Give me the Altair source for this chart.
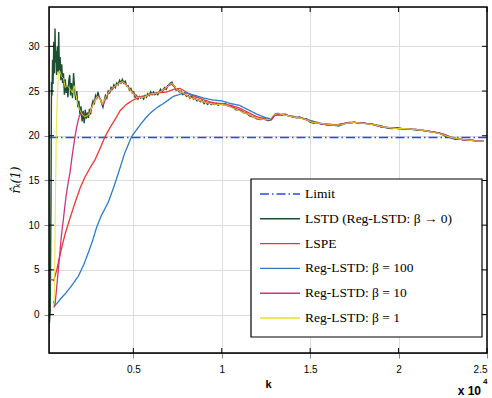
import altair as alt
import pandas as pd

# ---- series names and styles -------------------------------------------
series_names = [
    "Limit",
    "LSTD (Reg-LSTD: β → 0)",
    "LSPE",
    "Reg-LSTD: β = 100",
    "Reg-LSTD: β = 10",
    "Reg-LSTD: β = 1",
]
series_colors = ["#2a48ee", "#1d4f32", "#ec3434", "#2c7ac9", "#cc3579", "#e6e21a"]
series_dashes = [[9, 3, 1.5, 3], [1, 0], [1, 0], [1, 0], [1, 0], [1, 0]]

# ---- data ----------------------------------------------------------------
limit_k = [230, 25000]
limit_r = [19.8, 19.8]

lstd_k = [250, 300, 340, 370, 400, 430, 460, 500, 540, 570, 600, 630, 660, 700, 740,
          780, 820, 860, 900, 950, 1000, 1050, 1100, 1150, 1200, 1250, 1300, 1350,
          1400, 1450, 1500, 1560, 1620, 1680, 1740, 1800, 1860, 1920, 1980, 2040,
          2100, 2160, 2220, 2280, 2340, 2400, 2460, 2520, 2580, 2650, 2720, 2790,
          2860, 2930, 3000, 3070, 3140, 3210, 3280, 3350, 3420, 3500, 3580, 3660,
          3740, 3820, 3900, 3980, 4060, 4140, 4220, 4300, 4380, 4460, 4540, 4620,
          4700, 4780, 4860, 4940, 5020, 5100, 5180, 5260, 5340, 5420, 5500, 5580,
          5660, 5740, 5820, 5900, 5980, 6060, 6140, 6220, 6300, 6380, 6460, 6540,
          6620, 6700, 6780, 6860, 6940, 7020, 7100, 7180, 7260, 7340, 7420, 7500,
          7600, 7700, 7800, 7900, 8000, 8100, 8200, 8300, 8400, 8500, 8600, 8700,
          8800, 8900, 9000, 9100, 9200, 9300, 9400, 9500, 9600, 9700, 9800, 9900,
          10000, 10200, 10400, 10600, 10800, 11000, 11200, 11400, 11600, 11800,
          12000, 12200, 12400, 12600, 12800, 13000, 13200, 13400, 13600, 13800,
          14000, 14200, 14400, 14600, 14800, 15000, 15200, 15400, 15600, 15800,
          16000, 16300, 16600, 16900, 17200, 17500, 17800, 18100, 18400, 18700,
          19000, 19300, 19600, 19900, 20200, 20500, 20800, 21100, 21400, 21700,
          22000, 22300, 22600, 22900, 23200, 23500, 23800, 24100, 24400, 24800]
lstd_r = [-1.0, 0.3, 12.0, 26.0, 24.5, 28.5, 25.8, 30.5, 27.0, 32.0, 28.2, 29.5, 26.8, 30.0, 27.2,
          31.6, 27.0, 28.8, 26.2, 28.0, 25.9, 27.0, 24.6, 26.3, 24.8, 25.6, 24.3, 26.2,
          26.8, 24.5, 25.9, 24.2, 27.0, 25.2, 24.0, 25.0, 23.2, 23.9, 22.4, 23.3,
          21.6, 22.8, 21.4, 22.9, 21.9, 22.6, 22.0, 23.0, 22.4, 23.4, 23.9, 23.5,
          24.5, 24.2, 24.9, 24.3, 24.1, 23.6, 23.2, 23.9, 24.5, 24.2, 25.0, 24.8,
          25.4, 25.2, 25.7, 25.4, 25.9, 25.7, 26.2, 25.9, 26.3, 25.9, 26.1, 25.6,
          25.6, 25.1, 25.3, 24.8, 24.9, 24.3, 24.5, 24.1, 24.4, 24.2, 24.4, 24.1,
          24.5, 24.3, 24.7, 24.5, 24.9, 24.6, 24.9, 24.6, 24.8, 24.6, 24.9, 25.2,
          24.9, 25.2, 25.4, 25.2, 25.6, 25.7, 25.9, 26.0, 25.6, 25.5, 25.1, 25.2,
          24.9, 25.0, 24.6, 24.8, 24.4, 24.5, 24.2, 24.4, 24.1, 24.2, 23.9, 24.0,
          23.8, 23.9, 23.6, 23.8, 23.5, 23.7, 23.5, 23.7, 23.5, 23.6, 23.4, 23.6,
          23.5, 23.6, 23.3, 23.2, 22.9, 22.9, 22.6, 22.5, 22.2, 22.1,
          21.9, 21.8, 21.9, 21.7, 21.8, 22.4, 22.5, 22.3, 22.4, 22.2,
          22.2, 22.0, 22.1, 21.9, 21.9, 21.5, 21.4, 21.5, 21.3, 21.3,
          21.2, 21.2, 21.1, 21.3, 21.5, 21.5, 21.4, 21.4, 21.3, 21.2,
          21.1, 20.9, 20.8, 20.9, 20.8, 20.8, 20.7, 20.6, 20.6, 20.5,
          20.4, 20.3, 20.0, 19.8, 19.6, 19.6, 19.5, 19.5, 19.4, 19.4]

lspe_k = [300, 400, 500, 570, 670, 800, 950, 1140, 1420, 1700, 2000, 2270, 2550, 2830,
          3100, 3400, 3680, 3960, 4250, 4600, 5000, 5500, 5940, 6400, 6890, 7300, 7640,
          7900, 8200, 8600, 9000, 9500, 10000, 10500, 11000, 11500, 12000, 12500,
          12800, 13000, 13500, 14000, 14500, 15000, 15500, 16000, 16500, 17000, 17500,
          18000, 18500, 19000, 19500, 20000, 21000, 22000, 22500, 23000, 23500, 24000,
          24800]
lspe_r = [3.9, 3.9, 3.8, 4.3, 5.0, 6.2, 7.5, 9.0, 10.8, 12.5, 14.2, 15.4, 16.4, 17.3,
          18.5, 19.9, 20.9, 21.8, 22.8, 23.5, 24.0, 24.4, 24.6, 24.8, 24.9, 25.2, 25.3,
          25.0, 24.6, 24.3, 24.0, 23.7, 23.6, 23.4, 23.1, 22.6, 22.1, 21.9,
          21.8, 22.3, 22.4, 22.1, 22.0, 21.7, 21.4, 21.3, 21.2, 21.4, 21.5,
          21.4, 21.3, 21.0, 20.9, 20.8, 20.7, 20.4, 20.2, 19.8, 19.6, 19.5,
          19.4]

reg100_k = [480, 570, 700, 900, 1140, 1500, 1890, 2200, 2450, 2700, 2930, 3200, 3590,
            3900, 4150, 4500, 4900, 5380, 5660, 5940, 6300, 6700, 7260, 7740, 8000,
            8500, 9000, 9500, 10000, 10500, 11000, 11500, 12000, 12500, 12800, 13000,
            13500, 14000, 14500, 15000, 15500, 16000, 16500, 17000, 17500, 18000,
            18500, 19000, 19500, 20000, 21000, 22000, 22500, 23000, 23500, 24000, 24800]
reg100_r = [1.5, 1.0, 1.3, 1.8, 2.3, 3.2, 4.3, 5.6, 6.9, 8.3, 9.8, 11.1, 12.6,
            14.3, 15.8, 18.0, 19.9, 21.2, 21.9, 22.5, 23.1, 23.6, 24.4, 24.7, 24.8,
            24.5, 24.2, 24.0, 23.9, 23.6, 23.4, 22.9, 22.4, 22.0, 21.9, 22.3,
            22.4, 22.1, 22.0, 21.7, 21.4, 21.3, 21.2, 21.4, 21.5, 21.4,
            21.3, 21.0, 20.9, 20.8, 20.7, 20.4, 20.2, 19.8, 19.6, 19.5, 19.4]

reg10_k = [500, 570, 640, 700, 780, 850, 920, 980, 1040, 1120, 1200, 1300, 1420, 1550,
           1700, 1800, 1890, 1960, 2050, 2170, 2280, 2400, 2550, 2700, 2850, 3000, 3150,
           3300, 3450, 3600, 3800, 4000, 4200, 4400, 4600, 4800, 5000, 5200, 5500, 5800,
           6100, 6400, 6700, 7000, 7200, 7400, 7700, 8000, 8400, 8800, 9200, 9600,
           10000, 10500, 11000, 11500, 12000, 12500, 12800, 13000, 13500, 14000, 14500,
           15000, 15500, 16000, 16500, 17000, 17500, 18000, 18500, 19000, 19500, 20000,
           21000, 22000, 22500, 23000, 23500, 24000, 24800]
reg10_r = [0.8, 1.1, 2.5, 3.8, 5.5, 7.0, 8.6, 9.7, 10.6, 12.0, 13.3, 14.6, 15.9, 17.9,
           19.9, 21.0, 21.8, 22.3, 22.4, 22.3, 22.2, 22.3, 22.7, 23.4, 24.1, 24.4, 24.0,
           23.5, 24.2, 24.8, 25.2, 25.6, 25.9, 26.0, 25.7, 25.2, 24.8, 24.4, 24.3, 24.5,
           24.7, 24.8, 25.1, 25.6, 25.8, 25.3, 24.9, 24.5, 24.2, 23.9, 23.7, 23.5,
           23.5, 23.3, 22.9, 22.4, 21.9, 21.8, 21.8, 22.3, 22.4, 22.1, 22.0,
           21.6, 21.4, 21.2, 21.2, 21.4, 21.5, 21.4, 21.3, 21.0, 20.9, 20.8,
           20.7, 20.4, 20.2, 19.8, 19.6, 19.5, 19.4]

reg1_k = [450, 520, 560, 600, 650, 700, 760, 820, 880, 950, 1050, 1150, 1250, 1350, 1450,
          1550, 1650, 1750, 1850, 1950, 2050, 2150, 2250, 2350, 2450, 2550, 2650, 2800,
          2950, 3100, 3250, 3400, 3550, 3700, 3850, 4000, 4150, 4300, 4450, 4600, 4750,
          4900, 5050, 5200, 5400, 5600, 5800, 6000, 6200, 6400, 6600, 6800, 7000, 7150,
          7300, 7500, 7700, 7900, 8100, 8300, 8500, 8800, 9100, 9400, 9700, 10000,
          10300, 10600, 10900, 11200, 11500, 11800, 12100, 12400, 12700, 12900, 13200,
          13600, 14000, 14400, 14800, 15100, 15500, 15900, 16300, 16700, 17100, 17500,
          17900, 18300, 18700, 19100, 19500, 19900, 20400, 20900, 21400, 21900, 22400,
          22800, 23200, 23600, 24000, 24400, 24800]
reg1_r = [0.8, 1.2, 6.0, 14.0, 21.0, 24.5, 26.6, 27.3, 27.0, 26.6, 26.4, 25.4, 25.6, 25.4, 25.2,
          24.8, 25.6, 24.6, 23.6, 23.0, 22.6, 22.3, 22.1, 22.2, 22.3, 22.6, 23.2, 23.8,
          24.4, 24.2, 23.5, 24.2, 24.7, 25.1, 25.4, 25.6, 25.8, 26.0, 26.0, 25.7, 25.3,
          24.9, 24.6, 24.3, 24.3, 24.3, 24.5, 24.7, 24.7, 24.8, 25.0, 25.3, 25.6, 25.9,
          25.6, 25.1, 24.9, 24.7, 24.4, 24.2, 24.1, 23.9, 23.7, 23.6, 23.5, 23.5,
          23.4, 23.1, 22.9, 22.6, 22.4, 22.1, 21.9, 21.8, 21.8, 22.3, 22.5,
          22.3, 22.1, 22.0, 21.8, 21.5, 21.4, 21.3, 21.2, 21.2, 21.4, 21.5,
          21.4, 21.3, 21.2, 21.0, 20.9, 20.8, 20.8, 20.7, 20.6, 20.4, 20.2,
          19.9, 19.7, 19.6, 19.5, 19.4, 19.4]

x_tick_values = [5000, 10000, 15000, 20000, 25000]
y_tick_values = [0, 5, 10, 15, 20, 25, 30]

# ---- geometry ------------------------------------------------------------
W, H = 438, 346
X_DOMAIN = [230, 25000]
Y_DOMAIN = [-4.3, 34.4]

series_k = [limit_k, lstd_k, lspe_k, reg100_k, reg10_k, reg1_k]
series_r = [limit_r, lstd_r, lspe_r, reg100_r, reg10_r, reg1_r]
series_width = [1.4, 1.4, 1.3, 1.3, 1.3, 1.0]

color_scale = alt.Scale(domain=series_names, range=series_colors)
dash_scale = alt.Scale(domain=series_names, range=series_dashes)

x_enc = alt.X("k:Q", scale=alt.Scale(domain=X_DOMAIN, nice=False, zero=False),
              axis=alt.Axis(values=x_tick_values, labelExpr="'' + datum.value / 10000",
                            title="k", titlePadding=4, labelPadding=6))
y_enc = alt.Y("r:Q", scale=alt.Scale(domain=Y_DOMAIN, nice=False, zero=False),
              axis=alt.Axis(values=y_tick_values, title=None, labelPadding=5))

layers = []
for name, ks, rs, sw in zip(series_names, series_k, series_r, series_width):
    df = pd.DataFrame({"k": ks, "r": rs})
    df["series"] = name
    layers.append(
        alt.Chart(df).mark_line(strokeWidth=sw, clip=True).encode(
            x=x_enc, y=y_enc,
            color=alt.Color("series:N", scale=color_scale, legend=None),
            strokeDash=alt.StrokeDash("series:N", scale=dash_scale, legend=None),
        )
    )

# inward tick marks on all four sides
xt = pd.DataFrame({"k": x_tick_values})
yt = pd.DataFrame({"r": y_tick_values})
tick_style = dict(color="black", strokeWidth=1)
ticks = [
    alt.Chart(xt).mark_rule(**tick_style).encode(x="k:Q", y=alt.value(H), y2=alt.value(H - 5)),
    alt.Chart(xt).mark_rule(**tick_style).encode(x="k:Q", y=alt.value(0), y2=alt.value(5)),
    alt.Chart(yt).mark_rule(**tick_style).encode(y="r:Q", x=alt.value(0), x2=alt.value(5)),
    alt.Chart(yt).mark_rule(**tick_style).encode(y="r:Q", x=alt.value(W), x2=alt.value(W - 5)),
]

# plot frame
one = pd.DataFrame({"v": [0]})
frame = alt.Chart(one).mark_rect(fill=None, stroke="black", strokeWidth=1.5).encode(
    x=alt.value(0), x2=alt.value(W), y=alt.value(0), y2=alt.value(H)
)

# legend box with a swatch and a label per series
LEG_X0, LEG_X1, LEG_Y0, LEG_Y1 = 202, 433, 172, 330
LEG_ROW0, LEG_STEP = 187, 24.8
legend_layers = [
    alt.Chart(one).mark_rect(fill="white", stroke="black", strokeWidth=1.2).encode(
        x=alt.value(LEG_X0), x2=alt.value(LEG_X1), y=alt.value(LEG_Y0), y2=alt.value(LEG_Y1)
    )
]
for i, name in enumerate(series_names):
    row = pd.DataFrame({"series": [name]})
    ly = LEG_ROW0 + i * LEG_STEP
    legend_layers.append(
        alt.Chart(row).mark_rule(strokeWidth=1.4).encode(
            x=alt.value(LEG_X0 + 9), x2=alt.value(LEG_X0 + 49), y=alt.value(ly),
            color=alt.Color("series:N", scale=color_scale, legend=None),
            strokeDash=alt.StrokeDash("series:N", scale=dash_scale, legend=None),
        )
    )
    legend_layers.append(
        alt.Chart(row).mark_text(
            font="Liberation Serif", fontSize=13.5, color="black", align="left", baseline="middle"
        ).encode(text="series:N", x=alt.value(LEG_X0 + 54), y=alt.value(ly))
    )

# axis exponent and y-axis title
exp_base = alt.Chart(pd.DataFrame({"t": ["x 10"]})).mark_text(
    font="Liberation Sans", fontWeight="bold", fontSize=12, color="black", align="right"
).encode(text="t:N", x=alt.value(432), y=alt.value(384))
exp_pow = alt.Chart(pd.DataFrame({"t": ["4"]})).mark_text(
    font="Liberation Sans", fontWeight="bold", fontSize=8, color="black", align="left"
).encode(text="t:N", x=alt.value(434), y=alt.value(375))
y_title = alt.Chart(pd.DataFrame({"t": ["r̂ₖ(1)"]})).mark_text(
    font="DejaVu Serif", fontStyle="italic", fontSize=12, color="black", angle=270
).encode(text="t:N", x=alt.value(-33), y=alt.value(173))

chart = alt.layer(*layers, *ticks, frame, *legend_layers, exp_base, exp_pow, y_title).properties(
    width=W, height=H,
    padding={"left": 49, "top": 7, "right": 5, "bottom": 45},
    autosize=alt.AutoSizeParams(type="none"),
).configure_view(
    stroke="black", strokeWidth=1.4
).configure_axis(
    domain=False, ticks=False, grid=False,
    labelFont="Liberation Sans", labelFontWeight="bold", labelFontSize=12, labelColor="black",
    titleFont="Liberation Sans", titleFontWeight="bold", titleFontSize=13, titleColor="black",
).configure(background="white")

chart.save("out.html", embed_options={"renderer": "svg", "actions": False})
